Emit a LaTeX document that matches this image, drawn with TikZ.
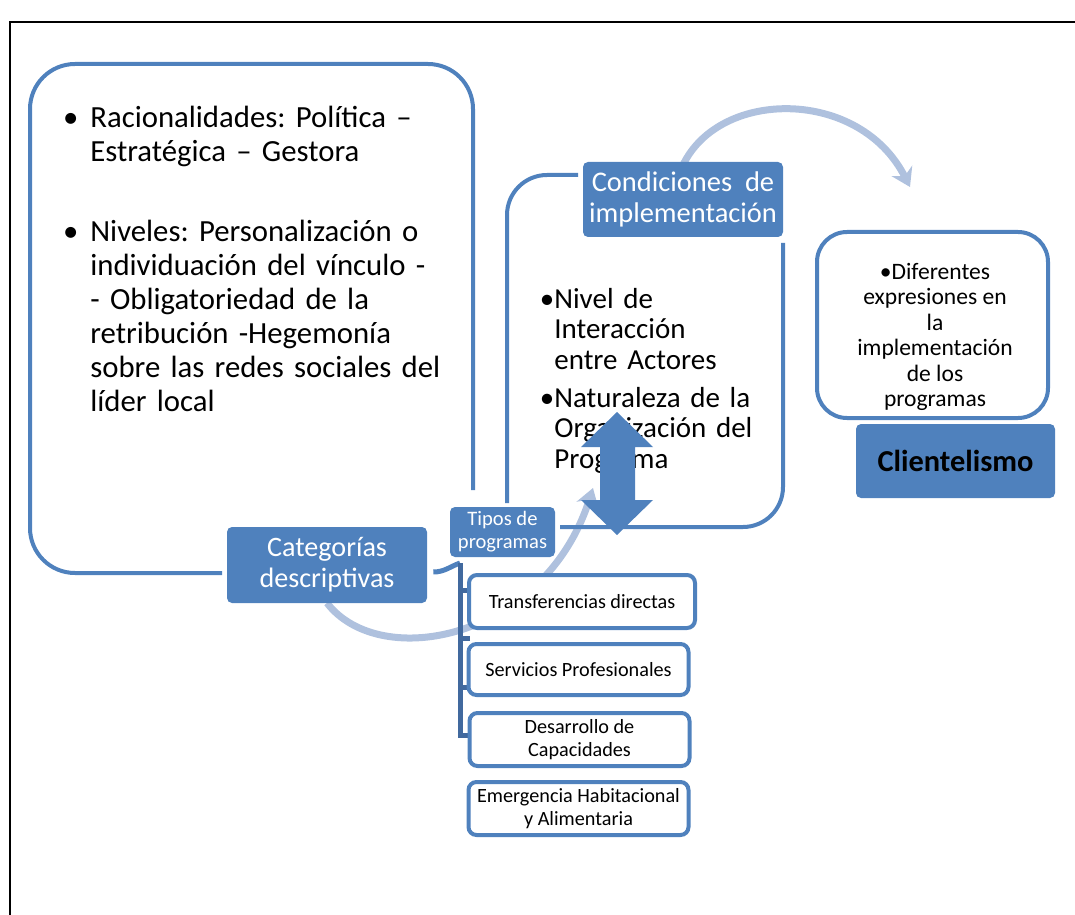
\documentclass[tikz,border=0pt]{standalone}
\usepackage{fontspec}
\setmainfont{Carlito}
\usetikzlibrary{arrows.meta}
\definecolor{accent}{HTML}{4F81BD}
\definecolor{accentdark}{HTML}{41699E}
\definecolor{accentlight}{HTML}{AFC1DE}
\begin{document}
\begin{tikzpicture}[x=0.2mm, y=-0.2mm,
        outline/.style = {draw=accent, line width=0.8mm, rounded corners=9mm},
        headbox/.style = {fill=accent, text=white, rounded corners=1mm,
        align=center, inner sep=0pt},
        itembox/.style = {draw=accent, line width=0.8mm, fill=white,
        rounded corners=1.6mm, align=center, inner sep=0pt,
        font=\fontsize{11.5}{13}\selectfont},
        bullets/.style = {anchor=base west, inner sep=0pt},
        sweep/.style = {draw=accentlight, line width=1.4mm,
        -{Stealth[length=3.6mm, width=4.6mm, inset=1.2mm]}},
        stem/.style = {draw=accentdark, line width=1mm}]
    \useasboundingbox (0,0) rectangle (1075,915);
    \draw[line width=0.3mm] (10,915) -- (10,22) -- (1075,22);

    \draw[sweep] (683,165) .. controls (720,88) and (860,88) .. (910,187);
    \draw[sweep] (327,603) .. controls (380,672) and (545,640) .. (593,488);

    \draw[outline] (222,573) -- (30,573) -- (30,64) -- (473,64) -- (473,490);
    \draw[outline, rounded corners=8mm] (578,175) -- (507,175) -- (507,503);
    \draw[outline, rounded corners=8mm] (560,527) -- (783,527) -- (783,243);

    \node[bullets, text width=7.6cm, font=\fontsize{17.5}{19.3}\selectfont] (racional) at (90,128)
        {\raggedright\frenchspacing
        \llap{•\hspace{2.4mm}}Racionalidades: Política –\\Estratégica – Gestora};
    \node[bullets, text width=7.6cm, font=\fontsize{17.5}{19.3}\selectfont] (niveles) at (90,242)
        {\raggedright\frenchspacing
        \llap{•\hspace{2.4mm}}Niveles: Personalización o\\individuación del vínculo -\\- Obligatoriedad de la\\
        retribución -Hegemonía\\sobre las redes sociales del\\líder local};
    \node[bullets, text width=4.4cm, font=\fontsize{16.5}{17.6}\selectfont] (nivel) at (554,308)
        {\raggedright\frenchspacing
        \llap{•}Nivel de\\Interacción\\entre Actores};
    \node[bullets, text width=4.4cm, font=\fontsize{16.5}{17.6}\selectfont] (natur) at (554,407)
        {\raggedright\frenchspacing
        \llap{•}Naturaleza de la\\Organización del\\Programa};

    \node[headbox, minimum width=4cm, minimum height=1.52cm,
        font=\fontsize{16}{17.6}\selectfont] (catdesc) at (327,565) {Categorías\\descriptivas};
    \node[headbox, minimum width=2.1cm, minimum height=1cm,
        font=\fontsize{11.7}{13}\selectfont] (tipos) at (502.5,532) {Tipos de\\programas};
    \node[headbox, minimum width=4cm, minimum height=1.5cm,
        font=\fontsize{16.2}{18.1}\selectfont] (cond) at (683,199.5) {Condiciones\ \ de\\implementación};

    \coordinate (bartop) at (460,563);
    \draw[accent, line width=1mm] ([xshift=1.2mm, yshift=-1.4mm]catdesc.east) to[out=0, in=200] (bartop);
    \draw[stem] (bartop) -- (460,735) -- (468,735);
    \foreach \y in {590,638,687}
        \draw[stem] (460,\y) -- ++(10,0);

    \node[itembox, minimum width=4.52cm, minimum height=1.06cm] (transf) at (582,601.5) {Transferencias directas};
    \node[itembox, minimum width=4.4cm, minimum height=1.02cm] (servic) at (578.5,669.5) {Servicios Profesionales};
    \node[itembox, minimum width=4.4cm, minimum height=1.06cm] (desarr) at (579.5,739.5) {Desarrollo de\\Capacidades};
    \node[itembox, minimum width=4.4cm, minimum height=1.06cm] (emerg) at (578.5,808.5) {Emergencia Habitacional\\y Alimentaria};

    \node[draw=accent, line width=0.8mm, fill=white, rounded corners=6mm,
        minimum width=4.62cm, minimum height=3.72cm] (difer) at (932.5,325) {};
    \node[align=center, inner sep=0pt, font=\fontsize{13.4}{14.5}\selectfont] (difertxt) at (935,337)
        {•Diferentes\\expresiones en\\la\\implementación\\de los\\programas};
    \node[headbox, text=black, minimum width=3.98cm, minimum height=1.48cm,
        font=\bfseries\fontsize{17.3}{19}\selectfont] (client) at (955.5,461) {Clientelismo};

    \fill[accent] (617,412) -- (653,447) -- (635,447) -- (635,500) -- (653,500) -- (617,535)
        -- (581,500) -- (600,500) -- (600,447) -- (581,447) -- cycle;
\end{tikzpicture}
\end{document}
